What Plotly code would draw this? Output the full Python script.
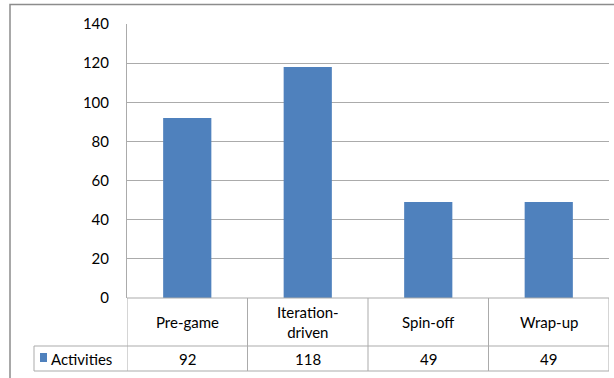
import plotly.graph_objects as go

categories = ["Pre-game", "Iteration-<br>driven", "Spin-off", "Wrap-up"]
values = [92, 118, 49, 49]
series_name = "Activities"
y_ticks = [0, 20, 40, 60, 80, 100, 120, 140]

W, H = 614, 378
L, R, T, B = 127, 5, 24, 80
PW, PH = W - L - R, H - T - B
BAR = "#4F81BD"
GRID = "#ABABAB"
FONT = "Lato"
FS = 15

def px(xp):
    return (xp - L) / PW

def py(yp):
    return (H - B - yp) / PH

fig = go.Figure(go.Bar(x=list(range(len(values))), y=values, marker_color=BAR,
                       marker_line_width=0, width=0.4, name=series_name))

fig.update_layout(
    width=W, height=H, margin=dict(l=L, r=R, t=T, b=B),
    paper_bgcolor="white", plot_bgcolor="white", showlegend=False,
    font=dict(family=FONT, size=FS, color="#000000"),
    xaxis=dict(range=[-0.5, len(values) - 0.5], showticklabels=False, showgrid=False,
               zeroline=False, showline=False, fixedrange=True),
    yaxis=dict(range=[0, 140], tickvals=y_ticks, showgrid=True, gridcolor=GRID,
               gridwidth=1, zeroline=False, showline=True, linecolor=GRID, linewidth=1,
               ticks="", ticklen=0, ticklabelstandoff=14,
               tickfont=dict(family=FONT, size=FS, color="#000"),
               fixedrange=True),
)

shapes = []
line = dict(color=GRID, width=1)
row1_top, row1_bot, row2_bot = H - B, 346, 371
# horizontal table lines
shapes.append(dict(type="line", xref="paper", yref="paper", x0=0, x1=1,
                   y0=py(row1_top), y1=py(row1_top), line=line))
shapes.append(dict(type="line", xref="paper", yref="paper", x0=px(34), x1=1,
                   y0=py(row1_bot), y1=py(row1_bot), line=line))
shapes.append(dict(type="line", xref="paper", yref="paper", x0=px(34), x1=1,
                   y0=py(row2_bot), y1=py(row2_bot), line=line))
# vertical table lines
shapes.append(dict(type="line", xref="paper", yref="paper", x0=px(34), x1=px(34),
                   y0=py(row1_bot), y1=py(row2_bot), line=line))
for i in range(len(values) + 1):
    shapes.append(dict(type="line", xref="x", yref="paper", x0=i - 0.5, x1=i - 0.5,
                       y0=py(row1_top), y1=py(row2_bot), line=line))
# legend key
shapes.append(dict(type="rect", xref="paper", yref="paper", x0=px(40), x1=px(47),
                   y0=py(353), y1=py(362), fillcolor=BAR, line=dict(width=0)))
# outer chart border
shapes.append(dict(type="rect", xref="paper", yref="paper", x0=px(10), x1=px(W + 5),
                   y0=py(H + 5), y1=py(4.5), line=dict(color="#8C8C8C", width=1.5),
                   fillcolor="rgba(0,0,0,0)"))
fig.update_layout(shapes=shapes)

ann = []
for i, (c, v) in enumerate(zip(categories, values)):
    ann.append(dict(x=i, xref="x", y=py((row1_top + row1_bot) / 2), yref="paper",
                    text=c, showarrow=False, xanchor="center", yanchor="middle",
                    font=dict(family=FONT, size=FS, color="#000")))
    ann.append(dict(x=i, xref="x", y=py((row1_bot + row2_bot) / 2), yref="paper",
                    text=str(v), showarrow=False, xanchor="center", yanchor="middle",
                    font=dict(family=FONT, size=FS, color="#000")))
ann.append(dict(x=px(49), xref="paper", y=py((row1_bot + row2_bot) / 2), yref="paper",
                text=series_name, showarrow=False, xanchor="left", yanchor="middle",
                font=dict(family=FONT, size=FS, color="#000")))
fig.update_layout(annotations=ann)

fig.write_html("out.html")
